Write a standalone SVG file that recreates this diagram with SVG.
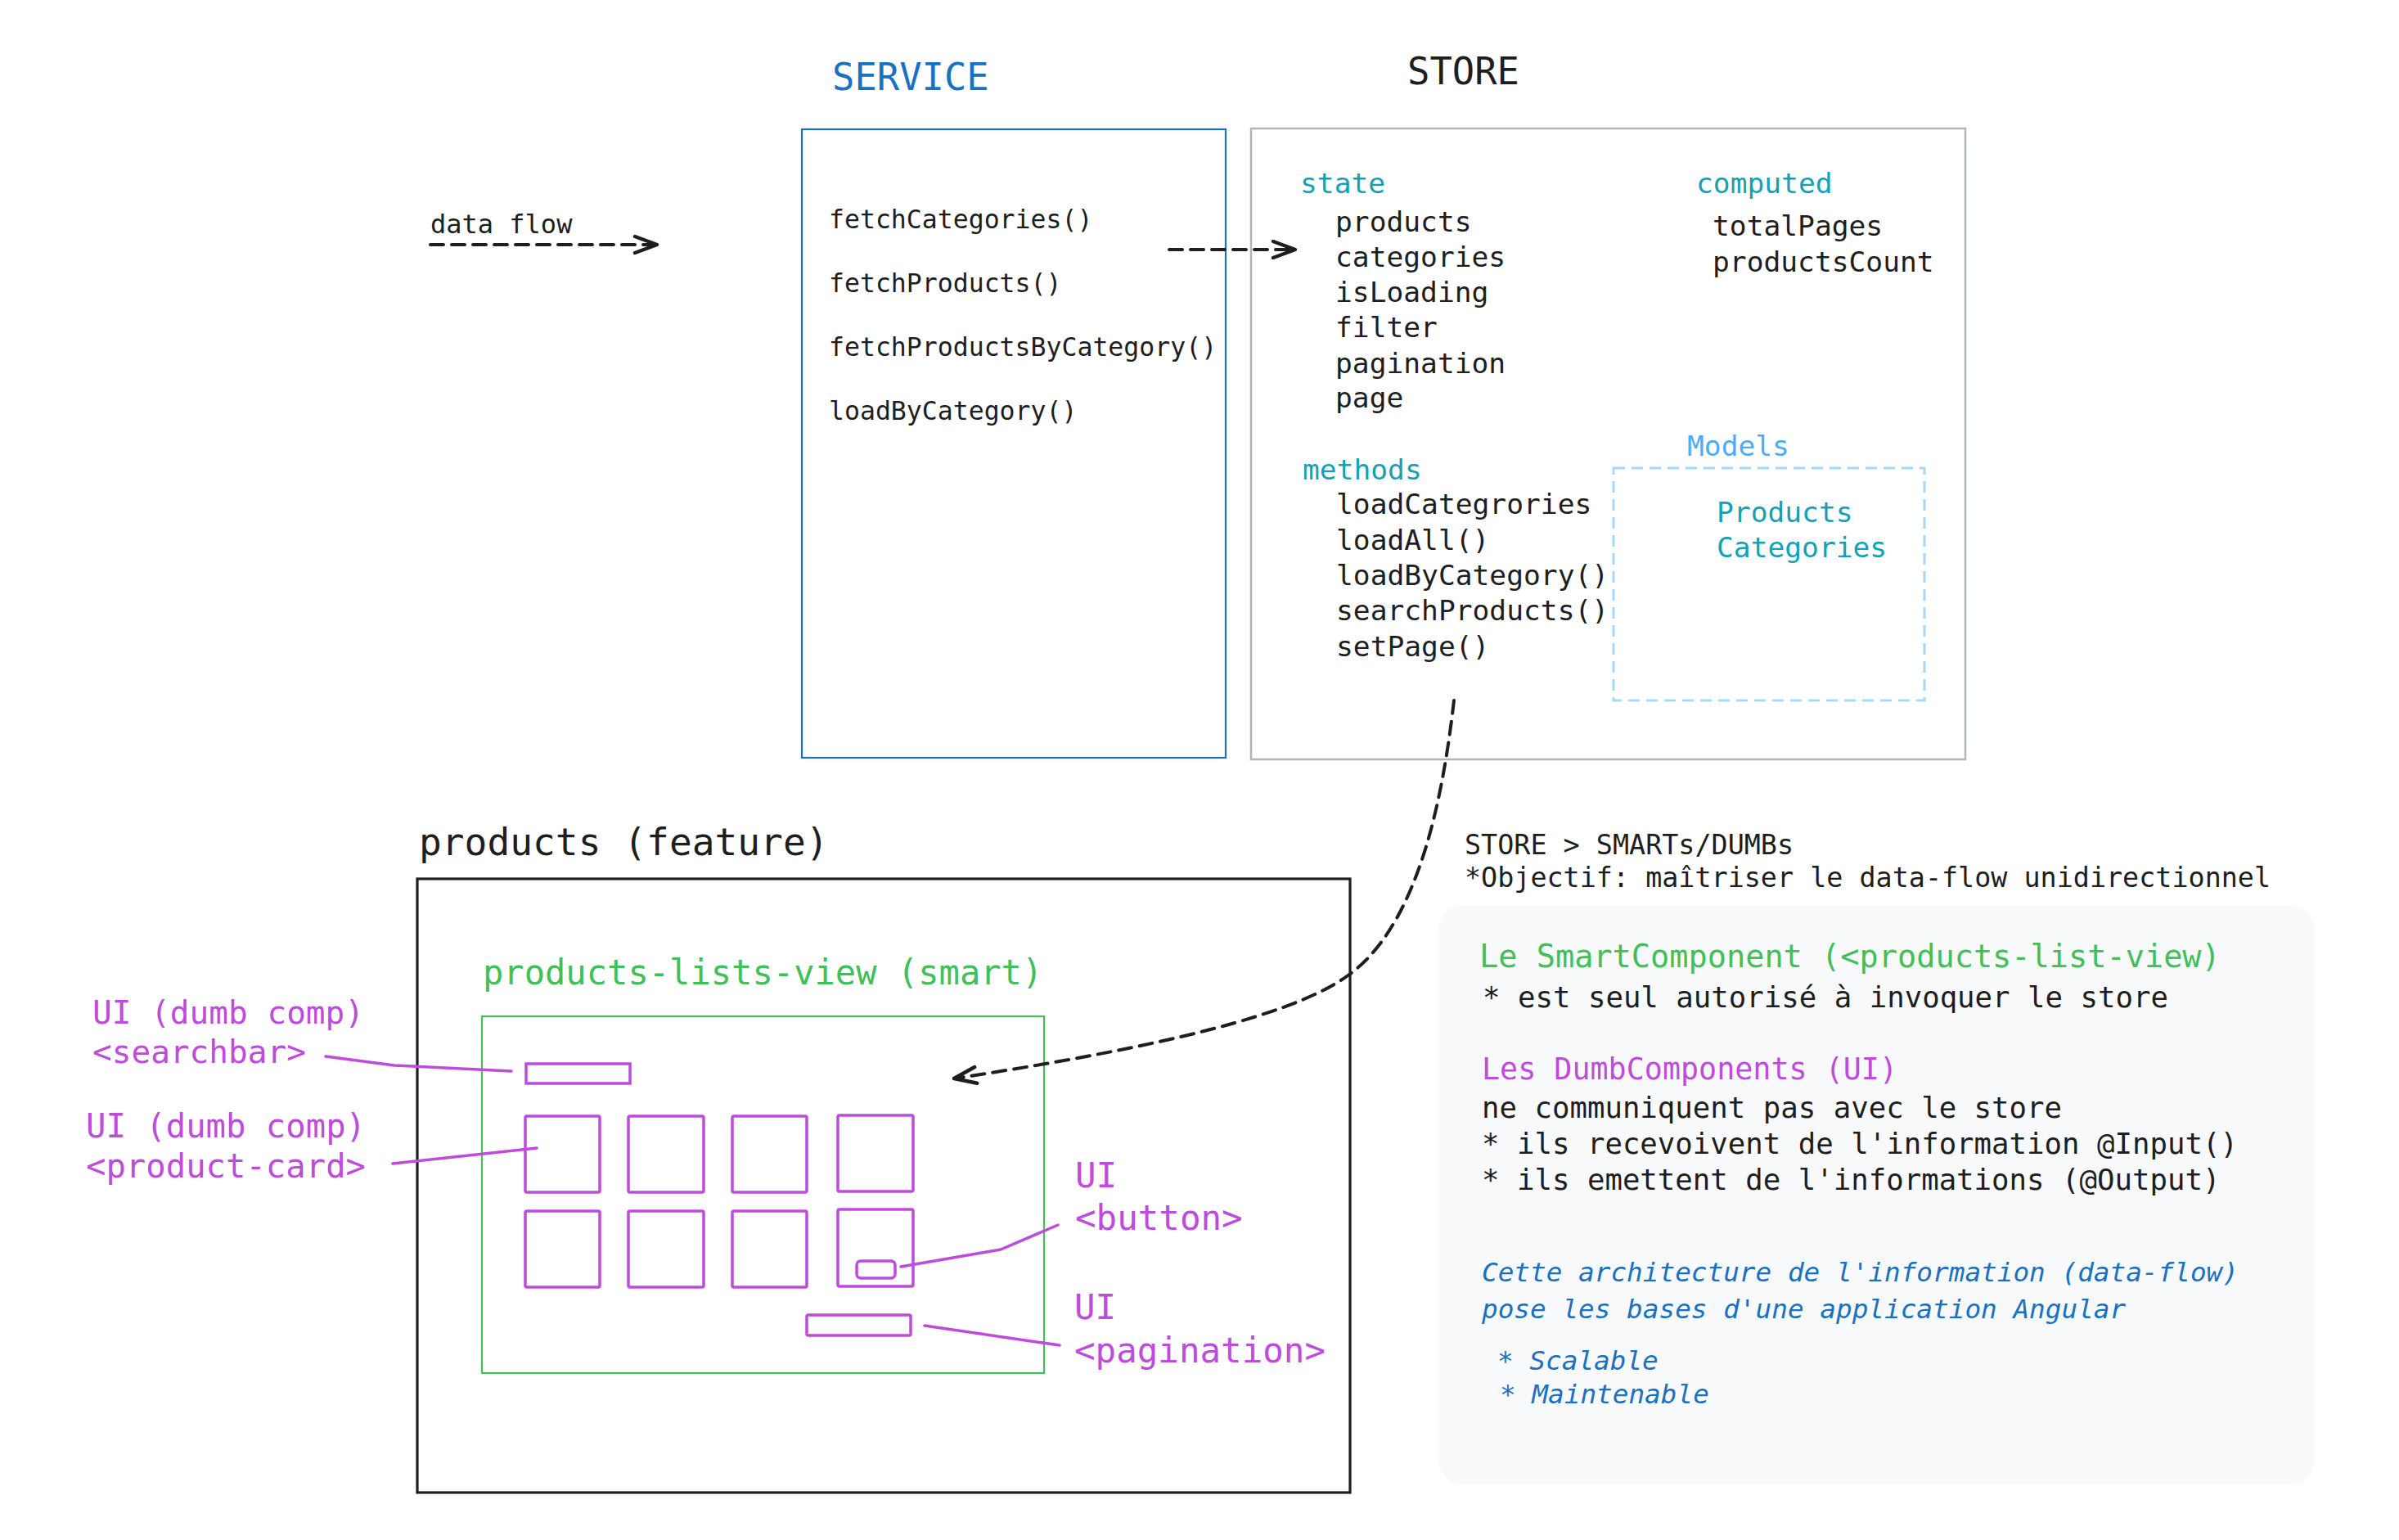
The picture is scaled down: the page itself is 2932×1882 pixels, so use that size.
<svg xmlns="http://www.w3.org/2000/svg" width="2932" height="1882" viewBox="0 0 2932 1882">
<style>
  text { font-family: "DejaVu Sans Mono", "Liberation Mono", monospace; fill: #1e1e1e; }
  .title { font-size: 45.5px; }
  .svc { font-size: 31.5px; }
  .st { font-size: 34.6px; }
  .teal { fill: #12a2b6; }
  .models { fill: #4dabf7; }
  .blue { fill: #1971c2; }
  .green { fill: #40c057; }
  .mag { fill: #be4bdb; }
  .ui1 { font-size: 39.4px; }
  .ui1b { font-size: 40.6px; }
  .ui2 { font-size: 42.5px; }
  .pn { font-size: 35.7px; }
  .it { font-size: 32.7px; font-style: italic; }
  .dash { fill: none; stroke: #1e1e1e; stroke-width: 4; stroke-dasharray: 16 10; stroke-linecap: round; }
  .pline { fill: none; stroke: #be4bdb; stroke-width: 3.5; stroke-linecap: round; stroke-linejoin: round; }
  .prect { fill: none; stroke: #be4bdb; stroke-width: 3.5; }
</style>
<defs>
  <marker id="arr" viewBox="-32 -16 36 32" refX="0" refY="0" markerWidth="36" markerHeight="32" markerUnits="userSpaceOnUse" orient="auto" overflow="visible">
    <path d="M-27,-10 L0,0 L-27,10" fill="none" stroke="#1e1e1e" stroke-width="4.5" stroke-linecap="round" stroke-linejoin="round" stroke-dasharray="none"/>
  </marker>
</defs>
<rect width="2932" height="1882" fill="#ffffff"/>

<g id="legend">
  <text x="526" y="285" style="font-size:32px">data flow</text>
</g>

<g id="service">
  <text x="1017" y="110" class="title blue">SERVICE</text>
  <rect x="980" y="158" width="518" height="768" fill="none" stroke="#1971c2" stroke-width="2.2"/>
  <text x="1013" y="279" class="svc">fetchCategories()</text>
  <text x="1013" y="357" class="svc">fetchProducts()</text>
  <text x="1013" y="435" class="svc">fetchProductsByCategory()</text>
  <text x="1013" y="513" class="svc">loadByCategory()</text>
</g>

<g id="store">
  <text x="1720" y="103" class="title">STORE</text>
  <rect x="1529" y="157" width="873" height="771" fill="none" stroke="#adb5bd" stroke-width="2.5"/>
  <text x="1589" y="236" class="st teal">state</text>
  <text x="1632" y="283" class="st">products</text>
  <text x="1632" y="326" class="st">categories</text>
  <text x="1632" y="369" class="st">isLoading</text>
  <text x="1632" y="412" class="st">filter</text>
  <text x="1632" y="456" class="st">pagination</text>
  <text x="1632" y="498" class="st">page</text>
  <text x="2073" y="236" class="st teal">computed</text>
  <text x="2093" y="288" class="st">totalPages</text>
  <text x="2093" y="332" class="st">productsCount</text>
  <text x="1592" y="586" class="st teal">methods</text>
  <text x="1633" y="628" class="st">loadCategrories</text>
  <text x="1633" y="672" class="st">loadAll()</text>
  <text x="1633" y="715" class="st">loadByCategory()</text>
  <text x="1633" y="758" class="st">searchProducts()</text>
  <text x="1633" y="802" class="st">setPage()</text>
</g>

<g id="models">
  <text x="2062" y="557" class="st models">Models</text>
  <rect x="1972" y="572" width="380" height="284" fill="none" stroke="#a5d8ff" stroke-width="3" stroke-dasharray="14 8"/>
  <text x="2098" y="638" class="st teal">Products</text>
  <text x="2098" y="681" class="st teal">Categories</text>
</g>

<g id="feature">
  <text x="512" y="1045" class="title" style="font-size:46.2px">products (feature)</text>
  <rect x="510" y="1074" width="1140" height="750" fill="none" stroke="#1e1e1e" stroke-width="3.2"/>
</g>

<g id="smart">
  <text x="590" y="1203" class="green" style="font-size:42.1px">products-lists-view (smart)</text>
  <rect x="589" y="1242" width="687" height="436" fill="none" stroke="#40c057" stroke-width="2.2"/>
</g>

<g id="searchbar">
  <rect x="643" y="1300" width="127" height="24" class="prect"/>
</g>

<g id="product-cards">
  <rect x="642" y="1364" width="91" height="93" rx="2" class="prect"/>
  <rect x="768" y="1364" width="92" height="93" rx="2" class="prect"/>
  <rect x="895" y="1364" width="91" height="93" rx="2" class="prect"/>
  <rect x="1024" y="1363" width="92" height="93" rx="2" class="prect"/>
  <rect x="642" y="1480" width="91" height="93" rx="2" class="prect"/>
  <rect x="768" y="1480" width="92" height="93" rx="2" class="prect"/>
  <rect x="895" y="1480" width="91" height="93" rx="2" class="prect"/>
  <rect x="1024" y="1478" width="92" height="94" rx="2" class="prect"/>
</g>

<g id="button">
  <rect x="1047" y="1541" width="47" height="21" rx="5" class="prect"/>
</g>

<g id="pagination">
  <rect x="986" y="1607" width="127" height="25" rx="2" class="prect"/>
</g>

<g id="label-searchbar">
  <text x="113" y="1251" class="ui1 mag">UI (dumb comp)</text>
  <text x="113" y="1299" class="ui1 mag">&lt;searchbar&gt;</text>
</g>
<g id="label-product-card">
  <text x="105" y="1390" class="ui1b mag">UI (dumb comp)</text>
  <text x="105" y="1439" class="ui1b mag">&lt;product-card&gt;</text>
</g>
<g id="label-button">
  <text x="1314" y="1451" class="ui2 mag">UI</text>
  <text x="1314" y="1503" class="ui2 mag">&lt;button&gt;</text>
</g>
<g id="label-pagination">
  <text x="1313" y="1612" class="ui2 mag">UI</text>
  <text x="1313" y="1665" class="ui2 mag">&lt;pagination&gt;</text>
</g>

<g id="notes">
  <text x="1790" y="1044" style="font-size:33.4px">STORE &gt; SMARTs/DUMBs</text>
  <text x="1790" y="1084" style="font-size:33.4px">*Objectif: maîtriser le data-flow unidirectionnel</text>
  <rect x="1759" y="1107" width="1069" height="707" rx="28" fill="#f8f9fa"/>
  <text x="1808" y="1182" class="green" style="font-size:38.6px">Le SmartComponent (&lt;products-list-view)</text>
  <text x="1812" y="1231" class="pn">* est seul autorisé à invoquer le store</text>
  <text x="1811" y="1319" class="mag" style="font-size:36.7px">Les DumbComponents (UI)</text>
  <text x="1811" y="1366" class="pn">ne communiquent pas avec le store</text>
  <text x="1811" y="1410" class="pn">* ils recevoivent de l'information @Input()</text>
  <text x="1811" y="1454" class="pn">* ils emettent de l'informations (@Output)</text>
  <text x="1811" y="1566" class="it blue">Cette architecture de l'information (data-flow)</text>
  <text x="1811" y="1611" class="it blue">pose les bases d'une application Angular</text>
  <text x="1830" y="1674" class="it blue">* Scalable</text>
  <text x="1833" y="1715" class="it blue">* Maintenable</text>
</g>

<g id="connectors">
  <path d="M526,299 L803,299" class="dash" marker-end="url(#arr)"/>
  <path d="M1429,305 L1583,305" class="dash" marker-end="url(#arr)"/>
  <path d="M1777,856 C1765,960 1738,1126 1649,1191 C1570,1250 1350,1290 1166,1318" class="dash" marker-end="url(#arr)"/>
  <polyline points="398,1291 482,1302 625,1309" class="pline"/>
  <polyline points="480,1422 656,1403" class="pline"/>
  <polyline points="1101,1548 1223,1527 1293,1497" class="pline"/>
  <polyline points="1130,1620 1295,1644" class="pline"/>
</g>
</svg>
